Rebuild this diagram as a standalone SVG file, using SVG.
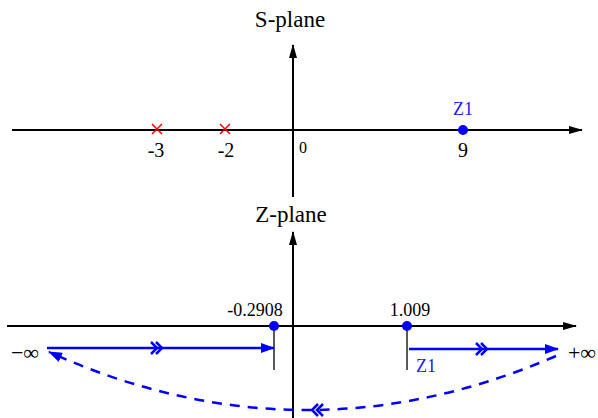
<svg xmlns="http://www.w3.org/2000/svg" width="598" height="418" viewBox="0 0 598 418" font-family="'Liberation Serif', 'Times New Roman', serif">
<style>
.h{font-family:'Liberation Serif','Times New Roman',serif;font-size:23px;fill:#000;text-anchor:middle}
.t{font-family:'Liberation Serif','Times New Roman',serif;font-size:20px;fill:#000;text-anchor:middle}
.s{font-family:'Liberation Serif','Times New Roman',serif;font-size:18px;fill:#000;text-anchor:middle}
.b{font-family:'Liberation Serif','Times New Roman',serif;font-size:18px;fill:#1a1aff}
.o{font-family:'Liberation Serif','Times New Roman',serif;font-size:16px;fill:#000;text-anchor:middle}
.inf{font-family:'Liberation Serif','Times New Roman',serif;font-size:22px;fill:#000;text-anchor:middle}
.ax{stroke:#000;stroke-width:2;fill:none}
.tick{stroke:#222;stroke-width:1.5;fill:none}
.bl{stroke:#0000ff;stroke-width:2.5;fill:none}
.x{stroke:#ff0000;stroke-width:1.5;fill:none}
</style>
<defs>
<marker id="ka" viewBox="0 0 14 10" refX="13" refY="5" markerWidth="14" markerHeight="10" markerUnits="userSpaceOnUse" orient="auto">
<path d="M0,1 L14,5 L0,9 Z" fill="#000"/>
</marker>
<marker id="ba" viewBox="0 0 14 10" refX="13" refY="5" markerWidth="14" markerHeight="10" markerUnits="userSpaceOnUse" orient="auto">
<path d="M0,0 L14,5 L0,10 Z" fill="#0000ff"/>
</marker>
</defs>
<g id="s-plane">
<text class="h" x="290" y="27">S-plane</text>
<line class="ax" x1="12" y1="130" x2="582" y2="130" marker-end="url(#ka)"/>
<line class="ax" x1="293" y1="197" x2="293" y2="45" marker-end="url(#ka)"/>
<g id="pole-3"><path class="x" d="M152,124 L162,134 M162,124 L152,134"/><text class="t" x="156" y="157">-3</text></g>
<g id="pole-2"><path class="x" d="M220,124 L230,134 M230,124 L220,134"/><text class="t" x="226" y="157">-2</text></g>
<text class="o" x="303" y="153">0</text>
<g id="s-z1"><circle cx="463" cy="130" r="5" fill="#0000ff"/><text class="b" x="463" y="115" text-anchor="middle">Z1</text><text class="t" x="463" y="157">9</text></g>
</g>
<g id="z-plane">
<text class="h" x="291" y="222">Z-plane</text>
<line class="ax" x1="7" y1="326" x2="576" y2="326" marker-end="url(#ka)"/>
<line class="ax" x1="293" y1="418" x2="293" y2="232" marker-end="url(#ka)"/>
<g id="pole-z"><line class="tick" x1="274" y1="326" x2="274" y2="370"/><circle cx="274" cy="326" r="5" fill="#0000ff"/><text class="s" x="255" y="316">-0.2908</text></g>
<g id="zero-z"><line class="tick" x1="407" y1="326" x2="407" y2="370"/><circle cx="407" cy="326" r="5" fill="#0000ff"/><text class="s" x="410" y="316">1.009</text><text class="b" x="416" y="372">Z1</text></g>
<text class="inf" x="25" y="360">−∞</text>
<text class="inf" x="582" y="360">+∞</text>
</g>
<g id="connectors">
<line class="bl" x1="47" y1="348" x2="274" y2="348" marker-end="url(#ba)"/>
<path class="bl" d="M151,342 L157,348 L151,354 M156,342 L162,348 L156,354"/>
<line class="bl" x1="409" y1="349" x2="558" y2="349" marker-end="url(#ba)"/>
<path class="bl" d="M476,343 L482,349 L476,355 M481,343 L487,349 L481,355"/>
<path class="bl" d="M556,356 Q302,466 49,352" stroke-dasharray="10,8" marker-end="url(#ba)"/>
<path class="bl" d="M318,404 L312,410 L318,416 M323,404 L317,410 L323,416"/>
</g>
</svg>
